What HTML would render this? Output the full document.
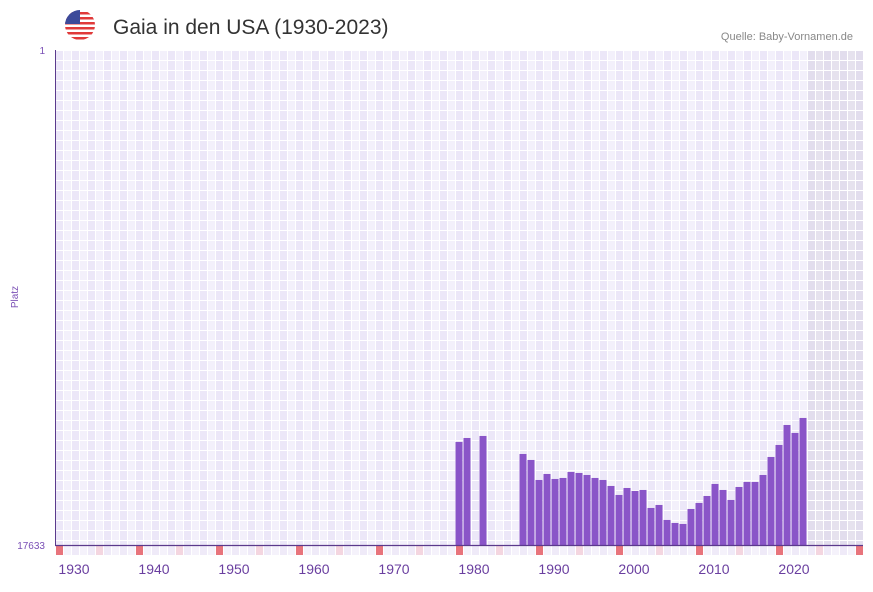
<!DOCTYPE html>
<html><head><meta charset="utf-8"><style>
body{margin:0;background:#fff;font-family:"Liberation Sans",sans-serif}
</style></head><body>
<svg id="chart" width="873" height="587" xmlns="http://www.w3.org/2000/svg">
<g>
<clipPath id="fc"><circle cx="80" cy="25" r="15"/></clipPath>
<g clip-path="url(#fc)">
<rect x="65" y="10" width="30" height="30" fill="#fff"/>
<rect x="65" y="12" width="30" height="2.5" fill="#e03a3a"/>
<rect x="65" y="17" width="30" height="2.5" fill="#e03a3a"/>
<rect x="65" y="22" width="30" height="2.5" fill="#e03a3a"/>
<rect x="65" y="27" width="30" height="2.5" fill="#e03a3a"/>
<rect x="65" y="32" width="30" height="2.5" fill="#e03a3a"/>
<rect x="65" y="37" width="30" height="2.5" fill="#e03a3a"/>
<rect x="65" y="10" width="15" height="14" fill="#3c4a9a"/>
</g></g>
<text x="113" y="34" font-size="21" fill="#333">Gaia in den USA (1930-2023)</text>
<text x="853" y="40" font-size="11" fill="#888" text-anchor="end">Quelle: Baby-Vornamen.de</text>
<text transform="translate(18,297) rotate(-90)" font-size="10" fill="#7a4fb5" text-anchor="middle">Platz</text>
<g id="grid"></g>
<g id="markers"></g>
<g id="bars"></g>
<g id="xlabels"></g>
<text x="45" y="54" font-size="10" fill="#7a4fb5" text-anchor="end">1</text>
<text x="45" y="549" font-size="10" fill="#7a4fb5" text-anchor="end">17633</text>
<line x1="55.5" y1="50" x2="55.5" y2="546" stroke="#5b3a8c" stroke-width="1"/>
<line x1="55" y1="545.5" x2="863" y2="545.5" stroke="#5b3a8c" stroke-width="1.2"/>
</svg>
<script>
const years=[1978,1979,1981,1986,1987,1988,1989,1990,1991,1992,1993,1994,1995,1996,1997,1998,1999,2000,2001,2002,2003,2004,2005,2006,2007,2008,2009,2010,2011,2012,2013,2014,2015,2016,2017,2018,2019,2020,2021];
const ranks=[13963,13821,13749,14391,14604,15317,15103,15281,15245,15032,15067,15139,15245,15317,15530,15851,15602,15708,15673,16314,16207,16741,16848,16884,16350,16136,15887,15459,15673,16029,15566,15388,15388,15139,14497,14070,13358,13642,13108];
const tickYears=[1930,1940,1950,1960,1970,1980,1990,2000,2010,2020];
const minRank=1,maxRank=17633,startYear=1928,endYear=2028,shadeFrom=2022;
const NS="http://www.w3.org/2000/svg";
const plotX0=55,cellW=8,plotTop=50,plotBottom=545;
function xs(y){return plotX0+(y-startYear)*cellW;}
function ys(r){return plotTop+(r-minRank)/(maxRank-minRank)*(plotBottom-plotTop);}
function mk(t,a,p){const e=document.createElementNS(NS,t);for(const k in a)e.setAttribute(k,a[k]);p.appendChild(e);return e;}
const grid=document.getElementById('grid');
for(let y=startYear;y<=endYear;y++){
  const sh=y>=shadeFrom;
  for(let r=0;r<50;r++){
    const yy=plotTop+r*10;
    const alt=(y%2===0);
    const c=sh?(alt?'#e2dded':'#e6e2ee'):(alt?'#ece7f8':'#f3f0fb');
    const h=Math.min(9,plotBottom-yy-1);if(h<=0)continue;
    mk('rect',{x:xs(y)+1,y:yy+1,width:7,height:h,fill:c},grid);
  }
}
const mg=document.getElementById('markers');
for(let y=startYear;y<=endYear;y++){
  const m=((y-startYear)%10+10)%10;
  const c=m===0?'#e8747c':(m===5?'#f4d6e0':(y%2===0?'#efeaf8':'#f5f2fb'));
  const r=mk('rect',{x:xs(y)+1,y:546,width:7,height:9,fill:c},mg);
  
  
}
const bg=document.getElementById('bars');
years.forEach((y,i)=>{
  const t=ys(ranks[i]);
  const r=mk('rect',{x:xs(y)+0.5,y:t,width:7,height:plotBottom-t,fill:'#8a55c8'},bg);
  
  
});
const xl=document.getElementById('xlabels');
tickYears.forEach(y=>{
  const t=mk('text',{x:xs(y)+3,y:574,'font-size':14,fill:'#6a3fa0','text-anchor':'middle'},xl);
  t.textContent=y;
  
  
});
</script>
</body></html>
